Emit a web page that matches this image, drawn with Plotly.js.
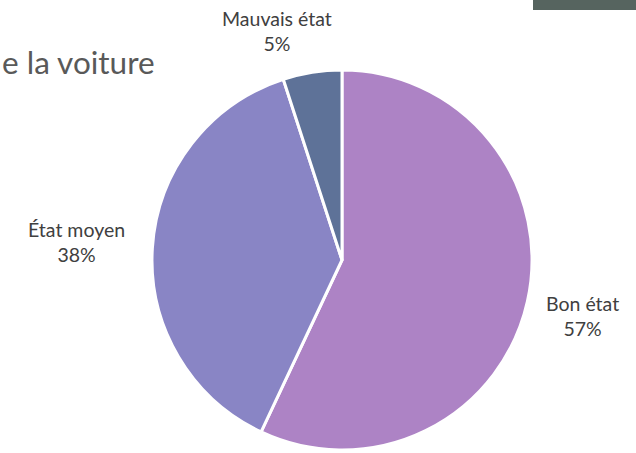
<!DOCTYPE html>
<html><head><meta charset="utf-8">
<script src="https://cdn.plot.ly/plotly-3.0.1.min.js"></script>
<style>html,body{margin:0;padding:0;background:#fff}#chart{width:636px;height:453px}</style>
</head><body><div id="chart"></div>
<script>
const categories = ["Bon état", "État moyen", "Mauvais état"];
const values = [57, 38, 5];
const colors = ["#ad83c5", "#8985c5", "#5e7298"];
const titleText = "e la voiture";

const W = 636, H = 453;
const labelPos = [[582, 316], [76, 242], [277, 31]];
const annotations = categories.map((c, i) => ({
  text: c + "<br>" + Math.round(values[i] / values.reduce((a, b) => a + b, 0) * 100) + "%",
  x: labelPos[i][0] / W, y: 1 - labelPos[i][1] / H, xref: "paper", yref: "paper",
  xanchor: "center", yanchor: "middle", showarrow: false, align: "center",
  font: {family: "Lato, 'Open Sans', sans-serif", size: 19.5, color: "#404040"}
}));
annotations.push({
  text: titleText, x: 0, y: 1 - 62 / H, xref: "paper", yref: "paper",
  xanchor: "left", yanchor: "middle", showarrow: false,
  font: {family: "Lato, 'Open Sans', sans-serif", size: 31.5, color: "#595959"}
});

Plotly.newPlot("chart", [{
  type: "pie", labels: categories, values: values, sort: false, direction: "clockwise",
  rotation: 0, textinfo: "none", hoverinfo: "label+percent",
  marker: {colors: colors, line: {color: "#ffffff", width: 3}},
  domain: {x: [152 / W, 532 / W], y: [3 / H, 383 / H]}
}], {
  width: W, height: H, margin: {l: 0, r: 0, t: 0, b: 0},
  paper_bgcolor: "#ffffff", showlegend: false, annotations: annotations,
  shapes: [{type: "rect", xref: "paper", yref: "paper", x0: 533 / W, x1: 1, y0: 1 - 10 / H, y1: 1,
    fillcolor: "#56645f", line: {width: 0}}]
}, {displayModeBar: false});
</script></body></html>
